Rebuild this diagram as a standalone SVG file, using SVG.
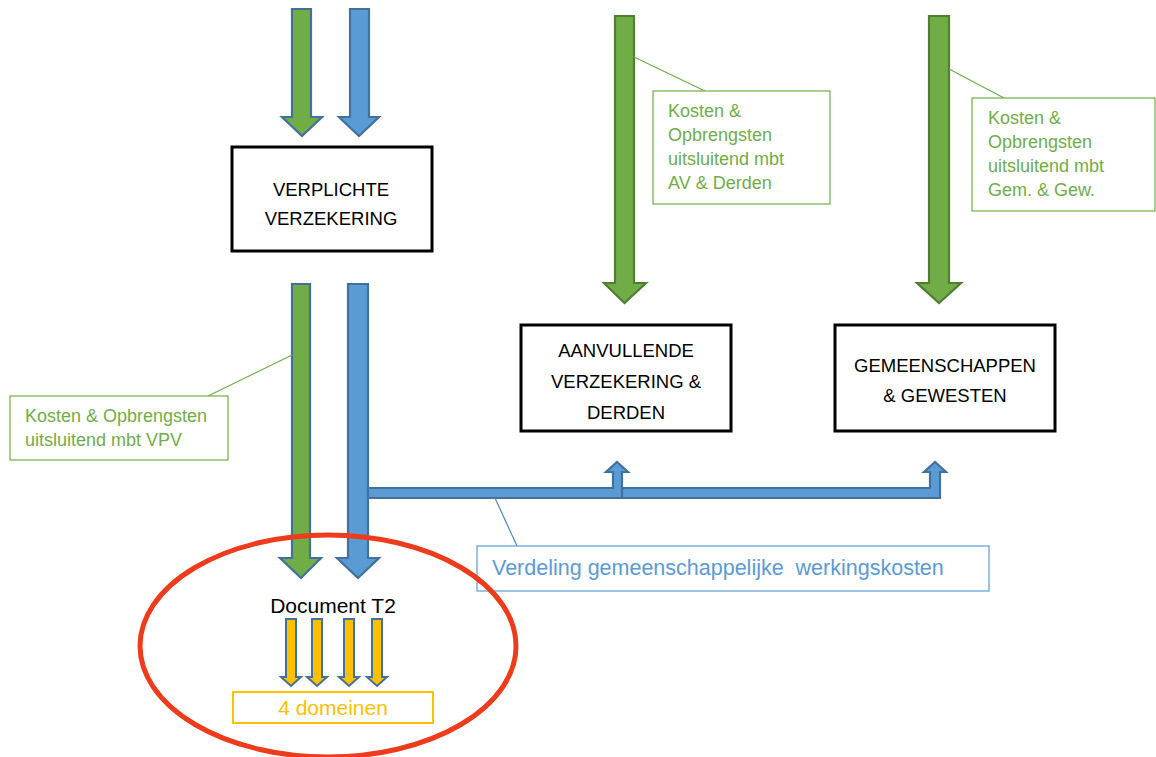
<svg xmlns="http://www.w3.org/2000/svg" width="1156" height="757" viewBox="0 0 1156 757">
<style>
.box{fill:#fff;stroke:#000;stroke-width:3}
.call{fill:#fff;stroke:#70AD47;stroke-width:1.2}
.lead-g{fill:none;stroke:#70AD47;stroke-width:1.2}
.lead-b{fill:none;stroke:#4A86C8;stroke-width:1.2}
.ag{fill:#70AD47;stroke:#41719C;stroke-width:2.2;stroke-linejoin:miter}
.ab{fill:#5B9BD5;stroke:#41719C;stroke-width:2.2;stroke-linejoin:miter}
.agd{fill:#70AD47;stroke:#507E32;stroke-width:2.2;stroke-linejoin:miter}
.ay{fill:#FFC000;stroke:#41719C;stroke-width:2;stroke-linejoin:miter}
.t{font-family:"Liberation Sans",Arial,sans-serif}
.tb{font-size:18.5px;fill:#000;text-anchor:middle}
.tg{font-size:18px;fill:#70AD47}
</style>
<rect width="1156" height="757" fill="#fff"/>
<g id="connectors">
  <!-- top arrows into VERPLICHTE -->
  <polygon class="ag" points="292,9 311,9 311,117 322,117 302,136 282,117 292,117"/>
  <polygon class="ab" points="350,9 369,9 369,117 379,117 359,136 339,117 350,117"/>
  <!-- arrows out of VERPLICHTE -->
  <polygon class="ag" points="292,284 310,284 310,558 321,558 301,578 280,558 292,558"/>
  <polygon class="ab" points="348,284 368,284 368,558 379,558 358,578 337,558 348,558"/>
  <!-- branch to GEMEENSCHAPPEN -->
  <polygon class="ab" points="620,488 930,488 930,472 924,472 935,462 946,472 940,472 940,498 620,498"/>
  <!-- branch to AANVULLENDE -->
  <polygon class="ab" points="368,488 613,488 613,472 606,472 617,462 628,472 622,472 622,498 368,498"/>
  <!-- right green arrows -->
  <polygon class="agd" points="615,16 634,16 634,283 646,283 624.5,303 604,283 615,283"/>
  <polygon class="agd" points="929,16 949,16 949,283 961,283 939,303 917,283 929,283"/>
  <!-- yellow arrows -->
  <polygon class="ay" points="286,619 296,619 296,677 301,677 291,686 281,677 286,677"/>
  <polygon class="ay" points="312,619 322,619 322,677 327,677 317,686 307,677 312,677"/>
  <polygon class="ay" points="344,619 354,619 354,677 359,677 349,686 339,677 344,677"/>
  <polygon class="ay" points="372,619 382,619 382,677 387,677 377,686 367,677 372,677"/>
  <!-- callout leaders -->
  <line class="lead-g" x1="292" y1="355" x2="208" y2="396"/>
  <line class="lead-g" x1="634" y1="57" x2="705" y2="91"/>
  <line class="lead-g" x1="949" y1="69" x2="1004" y2="98"/>
  <line class="lead-b" x1="495" y1="498" x2="517" y2="546"/>
</g>
<g id="verplichte">
  <rect class="box" x="232" y="147" width="200" height="104"/>
  <text class="t tb" x="331" y="196">VERPLICHTE</text>
  <text class="t tb" x="331" y="225">VERZEKERING</text>
</g>
<g id="aanvullende">
  <rect class="box" x="521" y="325" width="210" height="106"/>
  <text class="t tb" x="626" y="357">AANVULLENDE</text>
  <text class="t tb" x="626" y="388">VERZEKERING &amp;</text>
  <text class="t tb" x="626" y="419">DERDEN</text>
</g>
<g id="gemeenschappen">
  <rect class="box" x="835" y="325" width="220" height="106"/>
  <text class="t tb" x="945" y="372">GEMEENSCHAPPEN</text>
  <text class="t tb" x="945" y="402">&amp; GEWESTEN</text>
</g>
<g id="callout-vpv">
  <rect class="call" x="10" y="396" width="218" height="64"/>
  <text class="t tg" x="25" y="422">Kosten &amp; Opbrengsten</text>
  <text class="t tg" x="25" y="446">uitsluitend mbt VPV</text>
</g>
<g id="callout-av">
  <rect class="call" x="653" y="91" width="177" height="113"/>
  <text class="t tg" x="668" y="117">Kosten &amp;</text>
  <text class="t tg" x="668" y="141">Opbrengsten</text>
  <text class="t tg" x="668" y="165">uitsluitend mbt</text>
  <text class="t tg" x="668" y="189">AV &amp; Derden</text>
</g>
<g id="callout-gem">
  <rect class="call" x="972" y="98" width="183" height="113"/>
  <text class="t tg" x="988" y="124">Kosten &amp;</text>
  <text class="t tg" x="988" y="148">Opbrengsten</text>
  <text class="t tg" x="988" y="172">uitsluitend mbt</text>
  <text class="t tg" x="988" y="196">Gem. &amp; Gew.</text>
</g>
<g id="verdeling">
  <rect x="477" y="546" width="512" height="45" fill="#fff" stroke="#5B9BD5" stroke-width="1.2"/>
  <text class="t" x="492" y="575" font-size="21.5" fill="#5B9BD5" xml:space="preserve">Verdeling gemeenschappelijke  werkingskosten</text>
</g>
<g id="document-t2">
  <text class="t" x="333" y="613" font-size="21" fill="#000" text-anchor="middle">Document T2</text>
</g>
<g id="domeinen">
  <rect x="233" y="692" width="200" height="31" fill="none" stroke="#FFC000" stroke-width="2"/>
  <text class="t" x="333" y="715" font-size="21" fill="#FFC000" text-anchor="middle">4 domeinen</text>
</g>
<g id="highlight">
  <ellipse cx="328" cy="646" rx="188" ry="111" fill="none" stroke="#EE3B1B" stroke-width="5"/>
</g>
</svg>
